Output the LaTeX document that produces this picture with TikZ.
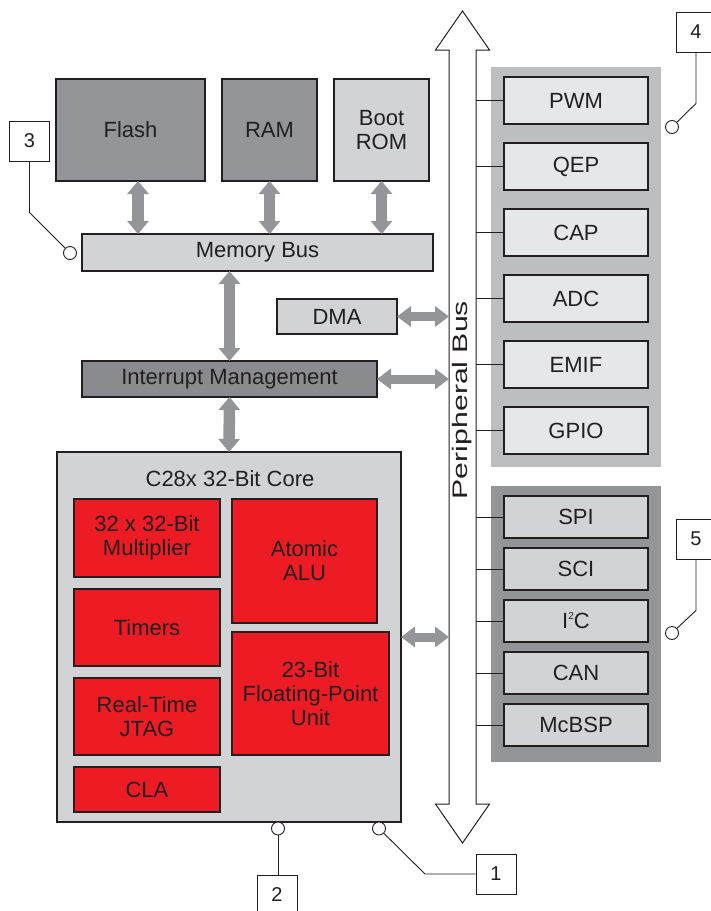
\documentclass[tikz,border=0pt]{standalone}
\usepackage{fontspec}
\setmainfont{Liberation Sans}
\usepackage{graphicx}
\usetikzlibrary{positioning,arrows.meta}

\definecolor{ink}{HTML}{231F20}
\definecolor{midgray}{HTML}{939598}
\definecolor{intgray}{HTML}{898B8E}
\definecolor{palegray}{HTML}{D1D3D4}
\definecolor{groupgray}{HTML}{BCBEC0}
\definecolor{whitegray}{HTML}{E6E7E8}
\definecolor{tired}{HTML}{ED1C24}

\begin{document}
\begin{tikzpicture}[
        x=1pt, y=-1pt,
        every node/.style={font=\fontsize{22}{24}\selectfont, text=ink},
        block/.style={draw=ink, line width=1.1pt, align=center,
                      inner sep=0pt, outer sep=0pt},
        unit/.style={block, fill=tired, minimum width=146pt},
        periph/.style={block, fill=whitegray, minimum width=144pt, minimum height=47pt},
        serial/.style={block, fill=palegray, minimum width=144pt, minimum height=42pt},
        tag/.style={draw=ink, line width=0.9pt, fill=white, minimum width=40pt,
                    minimum height=40pt, inner sep=0pt,
                    font=\fontsize{20}{22}\selectfont},
        pin/.style={circle, draw=ink, line width=0.9pt, fill=white,
                    minimum size=13pt, inner sep=0pt},
        callout/.style={draw=ink, line width=0.9pt},
        fat/.style={draw=midgray, line width=11.5pt,
                    {Triangle[length=13pt,width=21pt]}-{Triangle[length=13pt,width=21pt]}},
        fath/.style={draw=midgray, line width=9pt,
                    {Triangle[length=14pt,width=20pt]}-{Triangle[length=14pt,width=20pt]}}
    ]
        \path[use as bounding box, clip] (0,0) rectangle (711,911);

        % peripheral groups
        \fill[groupgray] (491,67) rectangle (661,467);
        \fill[midgray] (491,486) rectangle (661,762);

        % peripheral bus
        \draw[ink, line width=1pt, fill=white]
            (449,804) -- (449,50) -- (435.5,50) -- (462.5,11) -- (489.5,50)
            -- (476,50) -- (476,804) -- (489.5,804) -- (462.5,843)
            -- (435.5,804) -- cycle;
        \coordinate (busL) at (449,0);
        \coordinate (busR) at (476,0);
        \node[rotate=90, font=\fontsize{21}{24}\selectfont] (buslabel) at (462.5,400)
            {\scalebox{1.44}[1]{Peripheral Bus}};

        % memories
        \node[block, fill=midgray, minimum width=149pt, minimum height=102pt] (flash) at (130.5,130) {Flash};
        \node[block, fill=midgray, minimum width=95pt, minimum height=102pt, right=17pt of flash] (ram) {RAM};
        \node[block, fill=palegray, minimum width=95pt, minimum height=102pt, right=17pt of ram] (bootrom) {Boot\\ROM};
        \node[block, fill=palegray, minimum width=351pt, minimum height=37pt, anchor=north west] (membus) at (82,234) {Memory Bus};
        \node[block, fill=palegray, minimum width=120pt, minimum height=35pt] (dma) at (337,316.5) {DMA};
        \node[block, fill=intgray, minimum width=295pt, minimum height=36pt] (intr) at (229.5,379) {Interrupt Management};

        % core
        \node[block, fill=palegray, minimum width=344pt, minimum height=370pt] (core) at (229,637) {};
        \node (coretitle) at (230,479) {C28x 32-Bit Core};
        \node[unit, minimum height=78pt, anchor=north west] (mult) at (74,499) {32 x 32-Bit\\Multiplier};
        \node[unit, minimum height=77pt, below=12pt of mult] (timers) {Timers};
        \node[unit, minimum height=77pt, below=12pt of timers] (jtag) {Real-Time\\JTAG};
        \node[unit, minimum height=45pt, below=12pt of jtag] (cla) {CLA};
        \node[unit, minimum width=145pt, minimum height=124pt, anchor=north west] (alu) at (232,499) {Atomic\\ALU};
        \node[unit, minimum width=157pt, minimum height=123pt, anchor=north west] (fpu) at (232,632) {23-Bit\\Floating-Point\\Unit};

        % peripherals
        \node[periph] (pwm) at (576,100.5) {PWM};
        \node[periph, below=19pt of pwm] (qep) {QEP};
        \node[periph, below=19pt of qep] (cap) {CAP};
        \node[periph, below=19pt of cap] (adc) {ADC};
        \node[periph, below=19pt of adc] (emif) {EMIF};
        \node[periph, below=19pt of emif] (gpio) {GPIO};
        \node[serial] (spi) at (576,517) {SPI};
        \node[serial, below=10pt of spi] (sci) {SCI};
        \node[serial, below=10pt of sci] (iic) {I\raisebox{9pt}{\fontsize{10}{10}\selectfont 2}C};
        \node[serial, below=10pt of iic] (can) {CAN};
        \node[serial, below=10pt of can] (mcbsp) {McBSP};

        % bus taps
        \draw[ink, line width=1pt] (pwm.west) -- (pwm.west -| busR);
        \draw[ink, line width=1pt] (qep.west) -- (qep.west -| busR);
        \draw[ink, line width=1pt] (cap.west) -- (cap.west -| busR);
        \draw[ink, line width=1pt] (adc.west) -- (adc.west -| busR);
        \draw[ink, line width=1pt] (emif.west) -- (emif.west -| busR);
        \draw[ink, line width=1pt] (gpio.west) -- (gpio.west -| busR);
        \draw[ink, line width=1pt] (spi.west) -- (spi.west -| busR);
        \draw[ink, line width=1pt] (sci.west) -- (sci.west -| busR);
        \draw[ink, line width=1pt] (iic.west) -- (iic.west -| busR);
        \draw[ink, line width=1pt] (can.west) -- (can.west -| busR);
        \draw[ink, line width=1pt] (mcbsp.west) -- (mcbsp.west -| busR);

        % data paths
        \draw[fat] ([xshift=7.5pt]flash.south) -- ([xshift=7.5pt]flash.south |- membus.north);
        \draw[fat] (ram.south) -- (ram.south |- membus.north);
        \draw[fat] (bootrom.south) -- (bootrom.south |- membus.north);
        \draw[fat] (intr.north) -- (intr.north |- membus.south);
        \draw[fat] (intr.south) -- (core.north);
        \draw[fath] (dma.east) -- (dma.east -| busL);
        \draw[fath] (intr.east) -- (intr.east -| busL);
        \draw[fath] (core.east) -- (core.east -| busL);

        % numbered callouts
        \node[tag] (tag1) at (496,874) {1};
        \node[tag] (tag2) at (277,895) {2};
        \node[tag] (tag3) at (29.5,141) {3};
        \node[tag] (tag4) at (696,32) {4};
        \node[tag] (tag5) at (696,539) {5};
        \node[pin] (pin1) at (379,828.5) {};
        \node[pin] (pin2) at (278,828.5) {};
        \node[pin] (pin3) at (70,253) {};
        \node[pin] (pin4) at (672,127) {};
        \node[pin] (pin5) at (672,633) {};

        \draw[callout] (pin1) -- ++(46,45.5) -- (tag1.west);
        \draw[callout] (pin2) -- (pin2 |- tag2.north);
        \draw[callout] (tag3.south) -- ++(0,51) -- (pin3);
        \draw[callout] (tag4.south) -- ++(0,51) -- (pin4);
        \draw[callout] (tag5.south) -- ++(0,51) -- (pin5);
    \end{tikzpicture}
\end{document}
